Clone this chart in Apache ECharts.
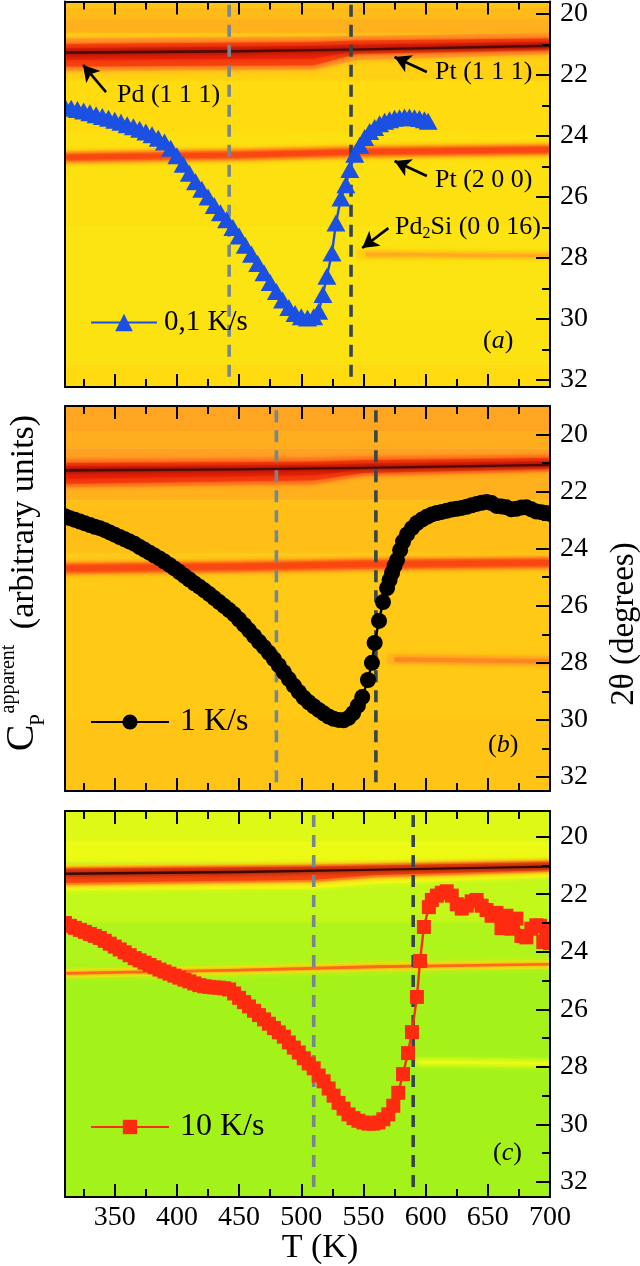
<!DOCTYPE html>
<html><head><meta charset="utf-8">
<style>html,body{margin:0;padding:0;background:#fff}#c{width:640px;height:1266px}</style>
<script src="https://cdn.jsdelivr.net/npm/echarts@6/dist/echarts.min.js"></script>
</head><body><div id="c"></div>
<script>
// ---------- data ----------
const ticksT = [350,400,450,500,550,600,650,700];
const minorT = [325,375,425,475,525,575,625,675];
const ticksTheta = [20,22,24,26,28,30,32];
const minorTheta = [21,23,25,27,29,31];

const tA = [310,315,320,325,330,335,340,345,350,355,360,365,370,375,380,385,390,395,400,405,410,415,420,425,430,435,440,445,450,455,460,465,470,475,480,485,490,495,500,505,510,514,517.4,520.6,524.7,527.9,531.9,535.9,539,543,547,551,555,559,563,567,571,575,579,583,587,591,595,599,602];
const thetaA = [23.05,23.09,23.13,23.18,23.24,23.3,23.36,23.42,23.48,23.55,23.63,23.7,23.78,23.87,23.96,24.07,24.2,24.4,24.65,24.93,25.22,25.5,25.75,26.0,26.28,26.52,26.75,27.0,27.28,27.58,27.88,28.18,28.48,28.8,29.1,29.38,29.62,29.82,29.93,29.97,29.93,29.75,29.2,28.6,27.84,26.85,26.03,25.6,25.1,24.6,24.3,24.05,23.85,23.72,23.6,23.52,23.47,23.42,23.4,23.38,23.38,23.4,23.43,23.47,23.52];

const tB = [310,314,318,322,326,330,334,338,342,346,350,354,358,362,366,370,374,378,382,386,390,394,398,402,406,410,414,418,422,426,430,434,438,442,446,450,454,458,462,466,470,474,478,482,486,490,494,498,502,506,510,514,518,522,526,530,534,538,541.7,545.5,549,553.6,556.8,559,562.5,565.7,569,571,573,575,577,579.5,581.8,585,589,593,597,601,605,609,613,617,621,625,629,633,637,641,645,649,653,657,661,665,669,673,677,681,685,689,693,697,700];
const thetaB = [22.86,22.93,22.99,23.05,23.11,23.17,23.23,23.28,23.35,23.43,23.51,23.59,23.67,23.75,23.83,23.94,24.04,24.14,24.24,24.34,24.45,24.57,24.69,24.82,24.95,25.08,25.21,25.33,25.46,25.59,25.73,25.87,26.01,26.15,26.3,26.48,26.67,26.86,27.06,27.26,27.45,27.65,27.87,28.09,28.33,28.57,28.8,29.02,29.22,29.38,29.52,29.65,29.77,29.88,29.96,30.0,30.01,29.93,29.76,29.5,29.2,28.6,28.0,27.3,26.53,25.87,25.38,25.1,24.85,24.6,24.4,24.05,23.75,23.5,23.28,23.1,22.98,22.88,22.8,22.75,22.71,22.67,22.63,22.6,22.57,22.53,22.48,22.43,22.39,22.36,22.4,22.5,22.52,22.55,22.62,22.6,22.56,22.55,22.62,22.7,22.72,22.75,22.78];

const tC = [310,314,318,322,326,330,334,338,342,346,350,354,358,362,366,370,374,378,382,386,390,394,398,402,406,410,414,418,422,426,430,434,438,442,446,450,454,458,462,466,470,474,478,482,486,490,494,498,502,506,510,514,518,522,526,530,534,538,542,546,550,554,558,562,566,570,574,578,581.8,585.8,589,593,595.5,598.6,602.6,605,609,613,617,621,625,629,633,637,641,645,649,653,657,661,665,669,673,677,681,685,689,692,694.6,697,700];
const thetaC = [23.0,23.1,23.17,23.24,23.31,23.38,23.45,23.52,23.62,23.72,23.82,23.92,24.02,24.12,24.22,24.3,24.38,24.46,24.54,24.62,24.69,24.76,24.83,24.9,24.97,25.03,25.1,25.16,25.2,25.22,25.24,25.25,25.27,25.31,25.45,25.6,25.75,25.9,26.05,26.2,26.35,26.5,26.65,26.8,26.95,27.15,27.33,27.5,27.7,27.88,28.05,28.3,28.5,28.75,29.0,29.25,29.45,29.65,29.78,29.87,29.93,29.97,29.97,29.93,29.82,29.65,29.35,28.9,28.25,27.52,26.79,25.57,24.32,23.14,22.45,22.2,22.05,21.95,21.9,22.05,22.35,22.5,22.4,22.25,22.2,22.4,22.55,22.75,22.65,23.18,22.75,23.2,22.85,23.45,23.5,23.2,23.08,23.1,23.66,23.2,23.7];

// background map: intensity, then four stations of T, upper 2-theta, lower 2-theta
const mapA = [
 [.46,310,19.5,19.8,450,19.5,19.8,550,19.5,19.8,700,19.5,19.8],
 [.5,310,19.8,20.2,450,19.8,20.2,550,19.8,20.2,700,19.8,20.2],
 [.54,310,20.2,20.65,450,20.2,20.65,550,20.2,20.65,700,20.2,20.65],
 [.42,310,20.65,22.2,450,20.65,22.2,550,20.65,22.2,700,20.65,22.2],
 [.38,310,22.2,23.9,450,22.2,23.9,550,22.2,23.9,700,22.2,23.9],
 [.36,310,23.9,27,450,23.9,27,550,23.9,27,700,23.9,27],
 [.34,310,27,30,450,27,30,550,27,30,700,27,30],
 [.35,310,30,31.5,450,30,31.5,550,30,31.5,700,30,31.5],
 [.38,310,31.5,32.3,450,31.5,32.3,550,31.5,32.3,700,31.5,32.3],
 [.62,310,20.8,21.86,510,20.75,21.82,545,20.72,21.5,700,20.62,21.32],
 [.8,310,20.98,21.72,510,20.92,21.68,545,20.87,21.3,700,20.8,21.18],
 [.87,310,21.12,21.5,510,21.05,21.45,545,21.0,21.2,700,20.92,21.12],
 [.97,310,21.22,21.31,450,21.18,21.26,550,21.12,21.2,700,21.0,21.08],
 [.5,310,24.5,24.9,450,24.42,24.82,550,24.32,24.72,700,24.26,24.64],
 [.7,310,24.57,24.83,450,24.49,24.75,550,24.39,24.65,700,24.32,24.58],
 [.79,310,24.62,24.78,450,24.54,24.7,550,24.44,24.6,700,24.37,24.53],
 [.42,545,27.74,28.02,600,27.76,28.02,650,27.78,28.04,700,27.8,28.05],
 [.56,552,27.82,27.95,600,27.84,27.95,650,27.86,27.97,700,27.87,27.97]
];
const mapB = [
 [.58,310,18.9,19.9,450,18.9,19.9,550,18.9,19.9,700,18.9,19.9],
 [.55,310,19.9,20.5,450,19.9,20.5,550,19.9,20.5,700,19.9,20.5],
 [.59,310,20.5,21,450,20.5,21,550,20.5,21,700,20.5,21],
 [.54,310,21,22.3,450,21,22.3,550,21,22.3,700,21,22.3],
 [.49,310,22.3,24.2,450,22.3,24.2,550,22.3,24.2,700,22.3,24.2],
 [.45,310,24.2,30,450,24.2,30,550,24.2,30,700,24.2,30],
 [.47,310,30,32.6,450,30,32.6,550,30,32.6,700,30,32.6],
 [.66,310,20.85,21.85,510,20.8,21.75,550,20.75,21.45,700,20.7,21.3],
 [.81,310,21.0,21.72,510,20.95,21.6,550,20.9,21.35,700,20.82,21.2],
 [.87,310,21.12,21.55,510,21.07,21.42,550,21.02,21.22,700,20.94,21.13],
 [.97,310,21.21,21.3,450,21.18,21.26,550,21.13,21.21,700,21.02,21.1],
 [.55,310,24.48,24.9,450,24.42,24.84,550,24.34,24.76,700,24.28,24.7],
 [.72,310,24.54,24.84,450,24.48,24.78,550,24.4,24.7,700,24.34,24.64],
 [.79,310,24.6,24.78,450,24.54,24.72,550,24.46,24.64,700,24.4,24.58],
 [.52,569,27.7,28.05,600,27.72,28.05,650,27.74,28.08,700,27.76,28.1],
 [.66,575,27.8,27.96,600,27.82,27.96,650,27.85,28.0,700,27.87,28.02]
];
const mapC = [
 [.2,310,19,20.2,450,19,20.2,550,19,20.2,700,19,20.2],
 [.24,310,20.2,20.9,450,20.2,20.9,550,20.2,20.9,700,20.2,20.9],
 [.12,310,20.9,23,450,20.9,23,550,20.9,23,700,20.9,23],
 [.07,310,23,24.4,450,23,24.4,550,23,24.4,700,23,24.4],
 [.04,310,24.4,32.6,450,24.4,32.6,550,24.4,32.6,700,24.4,32.6],
 [.26,310,20.98,21.86,510,20.88,21.8,560,20.84,21.64,700,20.76,21.4],
 [.6,310,21.06,21.68,510,20.98,21.58,560,20.94,21.42,700,20.84,21.22],
 [.8,310,21.12,21.6,510,21.04,21.5,560,21.0,21.33,700,20.89,21.16],
 [.98,310,21.25,21.33,450,21.19,21.27,560,21.12,21.19,700,21.0,21.08],
 [.22,310,24.6,24.9,450,24.49,24.79,560,24.37,24.67,700,24.29,24.58],
 [.72,310,24.7,24.8,450,24.59,24.69,560,24.47,24.57,700,24.39,24.48],
 [.13,590,27.7,27.98,620,27.7,27.98,660,27.72,28.0,700,27.74,28.02],
 [.24,595,27.79,27.89,620,27.79,27.89,660,27.81,27.91,700,27.83,27.93]
];

// dashed transition markers
const dashA = [[442,19.7,32.1],[540,19.7,32.1]];
const dashB = [[480,19.15,32.35],[560,19.15,32.35]];
const dashC = [[510,19.25,32.4],[590,19.25,32.4]];

// peak arrows: tail T, tail 2-theta, head T, head 2-theta
const arrowsA = [[343,22.56,324.5,21.67],[601,21.9,575,21.41],[601,25.31,575,24.82],[570,27.02,549,27.67]];

const namesRate = ['0,1 K/s','1 K/s','10 K/s'];

// ---------- chart ----------
const serif = '"Liberation Serif", serif';
const panels = [
 {top:1.5,height:385.5,min:19.59,max:32.23,t:tA,th:thetaA,map:mapA,dash:dashA,symbol:'triangle',size:[19,17],color:'#1B50E2',arrows:arrowsA},
 {top:406,height:385,min:19.0,max:32.49,t:tB,th:thetaB,map:mapB,dash:dashB,symbol:'circle',size:16,color:'#000000',arrows:[]},
 {top:811,height:386,min:19.11,max:32.52,t:tC,th:thetaC,map:mapC,dash:dashC,symbol:'rect',size:14,color:'#FF2B10',arrows:[]}
];
const grid=[],xAxis=[],yAxis=[],series=[],bgIdx=[];
function renderCell(params,api){
  const up=[],down=[];
  for(let s=0;s<4;s++){
    const T=api.value(1+s*3);
    up.push(api.coord([T,api.value(2+s*3)]));
    down.unshift(api.coord([T,api.value(3+s*3)]));
  }
  const fill=api.visual('color');
  return {type:'polygon',shape:{points:up.concat(down)},style:{fill,shadowBlur:5,shadowColor:fill}};
}
panels.forEach((p,i)=>{
  grid.push({left:65,width:485,top:p.top,height:p.height,show:false,containLabel:false});
  const base={type:'value',gridIndex:i,min:310,max:700,z:10,splitLine:{show:false}};
  const off={show:false};
  const tick=(len,vals)=>({show:true,inside:true,length:len,customValues:vals,lineStyle:{color:'#000',width:2}});
  const line={show:true,lineStyle:{color:'#000',width:2}};
  xAxis.push(Object.assign({},base,{position:'bottom',axisLine:line,axisTick:tick(13,ticksT),
    axisLabel:i===2?{show:true,customValues:ticksT,color:'#000',fontFamily:serif,fontSize:28,margin:7}:off}));
  xAxis.push(Object.assign({},base,{position:'top',axisLine:line,axisTick:tick(13,ticksT),axisLabel:off}));
  xAxis.push(Object.assign({},base,{position:'bottom',axisLine:off,axisTick:tick(8,minorT),axisLabel:off}));
  xAxis.push(Object.assign({},base,{position:'top',axisLine:off,axisTick:tick(8,minorT),axisLabel:off}));
  const ybase={type:'value',gridIndex:i,min:p.min,max:p.max,inverse:true,z:10,splitLine:{show:false}};
  yAxis.push(Object.assign({},ybase,{position:'right',axisLine:line,axisTick:tick(14,ticksTheta),
    axisLabel:{show:true,customValues:ticksTheta,color:'#000',fontFamily:serif,fontSize:28,margin:10}}));
  yAxis.push(Object.assign({},ybase,{position:'right',axisLine:off,axisTick:tick(8,minorTheta),axisLabel:off}));
  yAxis.push(Object.assign({},ybase,{position:'left',axisLine:line,axisTick:off,axisLabel:off}));
  const xi=i*4, yi=i*3;
  bgIdx.push(series.length);
  series.push({type:'custom',name:'map'+i,xAxisIndex:xi,yAxisIndex:yi,z:1,silent:true,clip:true,
    renderItem:renderCell,data:p.map,encode:{x:[1,4,7,10],y:[2,3,5,6,8,9,11,12]}});
  p.dash.forEach((d,k)=>{
    series.push({type:'line',name:'dash'+i+k,xAxisIndex:xi,yAxisIndex:yi,z:2,silent:true,symbol:'none',
      data:[[d[0],d[1]],[d[0],d[2]]],
      lineStyle:{color:k===0?'#78868F':'#36464A',width:3.6,type:[12,8]}});
  });
  series.push({type:'line',name:namesRate[i],xAxisIndex:xi,yAxisIndex:yi,z:3,silent:true,
    data:p.t.map((v,k)=>[v,p.th[k]]),symbol:p.symbol,symbolSize:p.size,showAllSymbol:true,
    lineStyle:{color:p.color,width:2.4},itemStyle:{color:p.color},
    markLine:p.arrows.length?{silent:true,animation:false,symbol:['none','arrow'],symbolSize:[14,16],
      label:{show:false},lineStyle:{color:'#000',width:2.6,type:'solid'},
      data:p.arrows.map(a=>[{coord:[a[0],a[1]]},{coord:[a[2],a[3]]}])}:undefined});
});
const txt=(text,x,y,size,extra)=>Object.assign({type:'text',x,y,z:20,silent:true,style:Object.assign({text,fill:'#000',font:size+'px '+serif,textAlign:'left',textVerticalAlign:'middle'},extra&&extra.style||{})},extra&&extra.el||{});
const rot={el:{rotation:Math.PI/2},style:{textAlign:'center'}};
const paren=(letter,x,y)=>({type:'text',x,y,z:20,silent:true,style:{text:'({i|'+letter+'})',font:'26px '+serif,fill:'#000',textVerticalAlign:'middle',rich:{i:{font:'italic 26px '+serif,fill:'#000'}}}});
const edge=(x,width,top,height)=>({type:'rect',z:5,silent:true,shape:{x,y:top,width,height},style:{fill:'#fff'}});
const graphic=[
 edge(52,12,1,386),edge(52,12,406,385),edge(52,12,811,386),
 edge(551,9,1,386),edge(551,9,406,385),edge(551,9,811,386),
 txt('Pd (1 1 1)',117,95,26),
 txt('Pt (1 1 1)',435,72,26),
 txt('Pt (2 0 0)',435,180,26),
 {type:'text',x:395,y:227,z:20,silent:true,style:{text:'{a|Pd}{s|2}{a|Si (0 0 16)}',fill:'#000',textVerticalAlign:'middle',
   rich:{a:{font:'26px '+serif,fill:'#000'},s:{font:'16px '+serif,fill:'#000',verticalAlign:'bottom',padding:[14,0,0,0]}}}},
 paren('a',483,341),paren('b',488,745),paren('c',493,1153),
 txt('(arbitrary units)',24,522,34,rot),
 txt('apparent',9,679,20,rot),
 txt('C',22,738,40,rot),
 txt('P',38,720,21,rot),
 txt('2\u03B8 (degrees)',624,624,33,rot),
 txt('T (K)',320,1248,34,{style:{textAlign:'center'}})
];
const legend=[
 {top:303,fs:29,w:66,h:22},
 {top:701,fs:32,w:78,h:19},
 {top:1106,fs:32,w:78,h:18}
].map((l,i)=>({data:[namesRate[i]],left:85,top:l.top,itemWidth:l.w,itemHeight:l.h,selectedMode:false,z:15,
  textStyle:{color:'#000',fontFamily:serif,fontSize:l.fs,padding:[0,0,0,i===0?2:6]}}));
const chart=echarts.init(document.getElementById('c'),null,{renderer:'canvas'});
chart.setOption({animation:false,backgroundColor:'#fff',grid,xAxis,yAxis,series,graphic,legend,
  visualMap:{type:'continuous',show:false,min:0,max:1,dimension:0,seriesIndex:bgIdx,
    inRange:{color:['#94F01C','#C4F81A','#F0FA14','#FFDC10','#FFBC18','#FF9828','#FF5A14','#E81E08','#200404']}}});
</script>
</body></html>
